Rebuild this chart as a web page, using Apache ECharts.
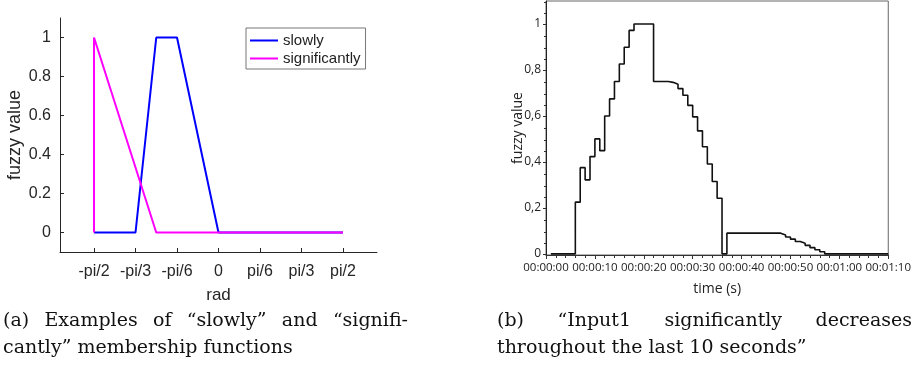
<!DOCTYPE html>
<html>
<head>
<meta charset="utf-8">
<script src="https://cdn.jsdelivr.net/npm/echarts@6/dist/echarts.min.js"></script>
<style>
  html, body { margin: 0; padding: 0; background: #fff; }
  #main { width: 914px; height: 373px; }
</style>
</head>
<body>
<div id="main"></div>
<script>
// (a) membership functions, x in multiples of pi
var slowlyX = [-1 / 2, -1 / 3, -1 / 4, -1 / 6, 0, 1 / 2];
var slowlyY = [0, 0, 1, 1, 0, 0];
var signifX = [-1 / 2, -1 / 2, -1 / 4, 1 / 2];
var signifY = [0, 1, 0, 0];
var radTicks = [-1 / 2, -1 / 3, -1 / 6, 0, 1 / 6, 1 / 3, 1 / 2];
var radLabels = ["-pi/2", "-pi/3", "-pi/6", "0", "pi/6", "pi/3", "pi/2"];
var fuzzyTicks = [0, 0.2, 0.4, 0.6, 0.8, 1];

// (b) fuzzy value over time (value held until next time)
var timeS = [1, 6, 7, 8, 9, 10, 11, 12, 13, 14, 15, 16, 17, 18, 22, 25, 26, 27, 28, 29,
  30, 31, 32, 33, 34, 35, 36, 37, 48, 49, 50, 51, 52, 53, 54, 55, 56, 57, 70];
var fuzzyB = [0, 0.225, 0.375, 0.322, 0.423, 0.5, 0.449, 0.6, 0.674, 0.75, 0.826, 0.899, 0.972, 1.0,
  0.75, 0.746, 0.738, 0.719, 0.69, 0.646, 0.596, 0.535, 0.466, 0.391, 0.315, 0.242, 0, 0.09,
  0.082, 0.073, 0.064, 0.054, 0.046, 0.037, 0.027, 0.018, 0.009, 0, 0];

var captionA = ["(a) Examples of \u201cslowly\u201d and \u201csignifi-", "cantly\u201d membership functions"];
var captionB = ["(b) \u201cInput1 significantly decreases", "throughout the last 10 seconds\u201d"];

function pairs(xs, ys, k) {
  var out = [];
  for (var i = 0; i < xs.length; i++) out.push([xs[i] * k, ys[i]]);
  return out;
}
function hms(v) {
  var s = Math.round(v);
  var h = Math.floor(s / 3600), m = Math.floor((s % 3600) / 60), r = s % 60;
  var p = function (n) { return (n < 10 ? "0" : "") + n; };
  return p(h) + ":" + p(m) + ":" + p(r);
}

var sans = "Liberation Sans";
var ui = "Open Sans";
var capFont = "19px 'DejaVu Serif'";

// justified caption line: spread words between x0 and x1
var ctx = document.createElement("canvas").getContext("2d");
ctx.font = capFont;
function justify(line, x0, x1, top) {
  var words = line.split(" ");
  var widths = words.map(function (w) { return ctx.measureText(w).width; });
  var total = widths.reduce(function (a, b) { return a + b; }, 0);
  var gap = (x1 - x0 - total) / (words.length - 1);
  var x = x0, out = [];
  words.forEach(function (w, i) {
    out.push({ type: "text", x: x, y: top, style: { text: w, font: capFont, fill: "#111" } });
    x += widths[i] + gap;
  });
  return out;
}
function plain(line, x0, top) {
  return [{ type: "text", x: x0, y: top, style: { text: line, font: capFont, fill: "#111" } }];
}

var chart = echarts.init(document.getElementById("main"));

chart.setOption({
  animation: false,
  grid: [
    { left: 60, top: 18, width: 317, height: 234 },
    { left: 546, top: 1, width: 360, height: 254, show: true, borderColor: "#666", borderWidth: 1 }
  ],
  legend: {
    left: 246, top: 28,
    orient: "vertical",
    data: ["slowly", "significantly"],
    icon: "rect",
    itemWidth: 28, itemHeight: 2, itemGap: 3,
    padding: [5, 5, 3, 4],
    borderColor: "#777", borderWidth: 1,
    textStyle: { fontFamily: sans, fontSize: 15, color: "#222" }
  },
  xAxis: [
    {
      gridIndex: 0, type: "value", min: -2, max: 2,
      name: "rad", nameLocation: "middle", nameGap: 35, nameMoveOverlap: false,
      nameTextStyle: { fontFamily: sans, fontSize: 17, color: "#262626" },
      axisLine: { onZero: false, lineStyle: { color: "#262626" } },
      axisTick: { inside: true, length: 4, customValues: radTicks.map(function (t) { return t * Math.PI; }),
        lineStyle: { color: "#262626" } },
      axisLabel: {
        customValues: radTicks.map(function (t) { return t * Math.PI; }),
        formatter: function (v) {
          for (var i = 0; i < radTicks.length; i++) {
            if (Math.abs(radTicks[i] * Math.PI - v) < 1e-6) return radLabels[i];
          }
          return "";
        },
        fontFamily: sans, fontSize: 16, color: "#262626", margin: 12
      },
      splitLine: { show: false }
    },
    {
      gridIndex: 1, type: "value", min: 0, max: 70, interval: 10,
      name: "time (s)", nameLocation: "middle", nameGap: 27, nameMoveOverlap: false,
      nameTextStyle: { fontFamily: ui, fontSize: 14, color: "#222" },
      axisLine: { onZero: false, lineStyle: { color: "#333" } },
      axisTick: { length: 4, lineStyle: { color: "#333" } },
      minorTick: { show: true, splitNumber: 5, length: 3, lineStyle: { color: "#333" } },
      axisLabel: { formatter: hms, fontFamily: ui, fontSize: 11.5, color: "#222", margin: 7,
        interval: 0, showMinLabel: true, showMaxLabel: true, hideOverlap: false },
      splitLine: { show: false }
    }
  ],
  yAxis: [
    {
      gridIndex: 0, type: "value", min: -0.1, max: 1.1,
      name: "fuzzy value", nameLocation: "middle", nameGap: 36, nameMoveOverlap: false,
      nameTextStyle: { fontFamily: sans, fontSize: 18, color: "#262626" },
      axisLine: { show: true, onZero: false, lineStyle: { color: "#262626" } },
      axisTick: { show: true, inside: true, length: 4, customValues: fuzzyTicks, lineStyle: { color: "#262626" } },
      axisLabel: { customValues: fuzzyTicks, fontFamily: sans, fontSize: 16, color: "#262626", margin: 9 },
      splitLine: { show: false }
    },
    {
      gridIndex: 1, type: "value", min: -0.005, max: 1.1, interval: 0.2,
      name: "fuzzy value", nameLocation: "middle", nameGap: 21, nameMoveOverlap: false,
      nameTextStyle: { fontFamily: ui, fontSize: 14, color: "#222" },
      axisLine: { show: true, onZero: false, lineStyle: { color: "#222" } },
      axisTick: { show: true, length: 3, customValues: fuzzyTicks, lineStyle: { color: "#333" } },
      minorTick: { show: true, splitNumber: 4, length: 2, lineStyle: { color: "#333" } },
      axisLabel: {
        customValues: fuzzyTicks,
        formatter: function (v) { return String(+v.toFixed(1)).replace(".", ","); },
        fontFamily: ui, fontSize: 12, color: "#222", margin: 5
      },
      splitLine: { show: false }
    }
  ],
  series: [
    {
      name: "slowly", type: "line", xAxisIndex: 0, yAxisIndex: 0,
      data: pairs(slowlyX, slowlyY, Math.PI), symbol: "none",
      lineStyle: { color: "#0000ff", width: 2 }, itemStyle: { color: "#0000ff" }
    },
    {
      name: "significantly", type: "line", xAxisIndex: 0, yAxisIndex: 0,
      data: pairs(signifX, signifY, Math.PI), symbol: "none",
      lineStyle: { color: "#ff00ff", width: 2 }, itemStyle: { color: "#ff00ff" }
    },
    {
      name: "Input1", type: "line", xAxisIndex: 1, yAxisIndex: 1, step: "end",
      data: pairs(timeS, fuzzyB, 1), symbol: "none",
      lineStyle: { color: "#111", width: 1.6 }
    }
  ],
  graphic: [].concat(
    justify(captionA[0], 3, 408, 312),
    plain(captionA[1], 3, 339),
    justify(captionB[0], 497, 912, 312),
    plain(captionB[1], 497, 339)
  )
});
</script>
</body>
</html>
